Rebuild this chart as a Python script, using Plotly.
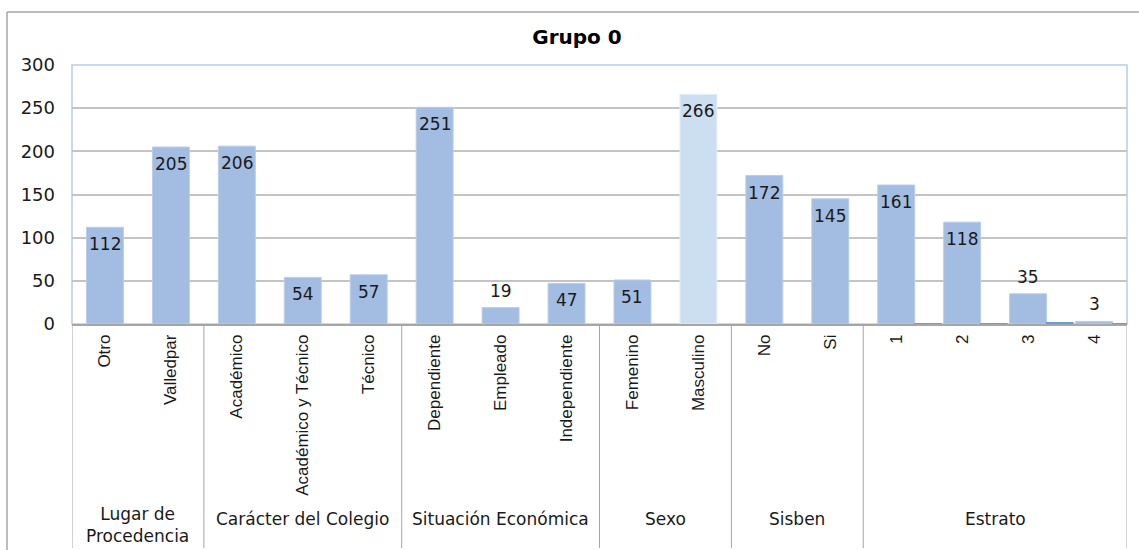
import plotly.graph_objects as go

# ---- data ----
categories = ["Otro", "Valledpar",
              "Académico", "Académico y Técnico", "Técnico",
              "Dependiente", "Empleado", "Independiente",
              "Femenino", "Masculino",
              "No", "Si",
              "1", "2", "3", "4"]
counts = [112, 205, 206, 54, 57, 251, 19, 47, 51, 266, 172, 145, 161, 118, 35, 3]
groups = ["Lugar de<br>Procedencia", "Carácter del Colegio", "Situación Económica",
          "Sexo", "Sisben", "Estrato"]
group_sizes = [2, 3, 3, 2, 2, 4]
# small secondary values shown beside the Estrato bars
estrato_extra = [1, 1, 2, 1]

# ---- geometry (pixels) ----
W, H = 1139, 550
ML, MR, MT, MB = 72, 12, 65, 226
PW, PH = W - ML - MR, H - MT - MB


def px_x(px):
    return (px - ML) / PW


def px_y(py):
    return (H - MB - py) / PH


n = len(categories)
xs = list(range(n))

bar_main = "#a3bce1"
bar_light = "#cbdff1"
colors = [bar_light if c == "Masculino" else bar_main for c in categories]
line_colors = ["#e3eef8" if c == "Masculino" else "#b9cdea" for c in categories]

fig = go.Figure()
fig.add_trace(go.Bar(
    x=xs, y=counts, width=0.56,
    marker=dict(color=colors, line=dict(color=line_colors, width=1)),
    hovertext=categories, showlegend=False,
))
estrato_idx = xs[-4:]
fig.add_trace(go.Bar(
    x=estrato_idx, y=estrato_extra, offset=0.27, width=0.42,
    marker=dict(color="#6f9bd3", line=dict(width=0)),
    showlegend=False,
))

# value labels
label_font = dict(family="DejaVu Sans", size=17, color="#1a1a1a")
outside = {"Empleado", "3", "4"}
for i, (c, v) in enumerate(zip(categories, counts)):
    fig.add_annotation(
        x=i, y=v, text=str(v), showarrow=False, font=label_font,
        xanchor="center", yanchor="middle",
        yshift=(17 if c in outside else -17),
    )

# group labels and separators
sep_bottom = px_y(548)
start = -0.5
fig.add_shape(type="line", xref="x", yref="paper", x0=start, x1=start,
              y0=0, y1=sep_bottom, line=dict(color="#a6a6a6", width=1))
for g, size in zip(groups, group_sizes):
    end = start + size
    fig.add_shape(type="line", xref="x", yref="paper", x0=end, x1=end,
                  y0=0, y1=sep_bottom, line=dict(color="#a6a6a6", width=1))
    two_lines = "<br>" in g
    fig.add_annotation(
        x=(start + end) / 2, y=px_y(548 if two_lines else 519),
        xref="x", yref="paper",
        text=g, showarrow=False, xanchor="center",
        yanchor="bottom" if two_lines else "middle",
        font=dict(family="DejaVu Sans", size=17, color="#1a1a1a"),
    )
    start = end

# plot area border
fig.add_shape(type="rect", xref="paper", yref="paper", x0=0, x1=1, y0=0, y1=1,
              line=dict(color="#b8cce6", width=1.5), layer="below")
# outer chart frame (top and left edges)
fig.add_shape(type="line", xref="paper", yref="paper",
              x0=px_x(7), x1=px_x(W), y0=px_y(12), y1=px_y(12),
              line=dict(color="#a6a6a6", width=1.5))
fig.add_shape(type="line", xref="paper", yref="paper",
              x0=px_x(7), x1=px_x(7), y0=px_y(12), y1=px_y(H),
              line=dict(color="#a6a6a6", width=1.5))

fig.update_layout(
    width=W, height=H,
    margin=dict(l=ML, r=MR, t=MT, b=MB),
    paper_bgcolor="white", plot_bgcolor="white",
    barmode="overlay",
    title=dict(text="<b>Grupo 0</b>", x=577 / W, xanchor="center",
               y=1 - 37 / H, yanchor="middle", xref="container", yref="container",
               font=dict(family="DejaVu Sans", size=20, color="#000000")),
    xaxis=dict(
        range=[-0.5, n - 0.5], tickmode="array", tickvals=xs, ticktext=categories,
        tickangle=-90, ticks="", showgrid=False, zeroline=False,
        showline=True, linecolor="#a6a6a6", linewidth=1.5,
        tickfont=dict(family="Liberation Sans", size=17, color="#1a1a1a"),
        ticklabelstandoff=2, fixedrange=True,
    ),
    yaxis=dict(
        range=[0, 300], dtick=50, tick0=0, showgrid=True, gridcolor="#c4c4c4",
        gridwidth=1.5, zeroline=False, showline=False, ticks="",
        tickfont=dict(family="DejaVu Sans", size=18, color="#1a1a1a"),
        ticklabelstandoff=16, fixedrange=True,
    ),
)

fig.write_html("out.html")
